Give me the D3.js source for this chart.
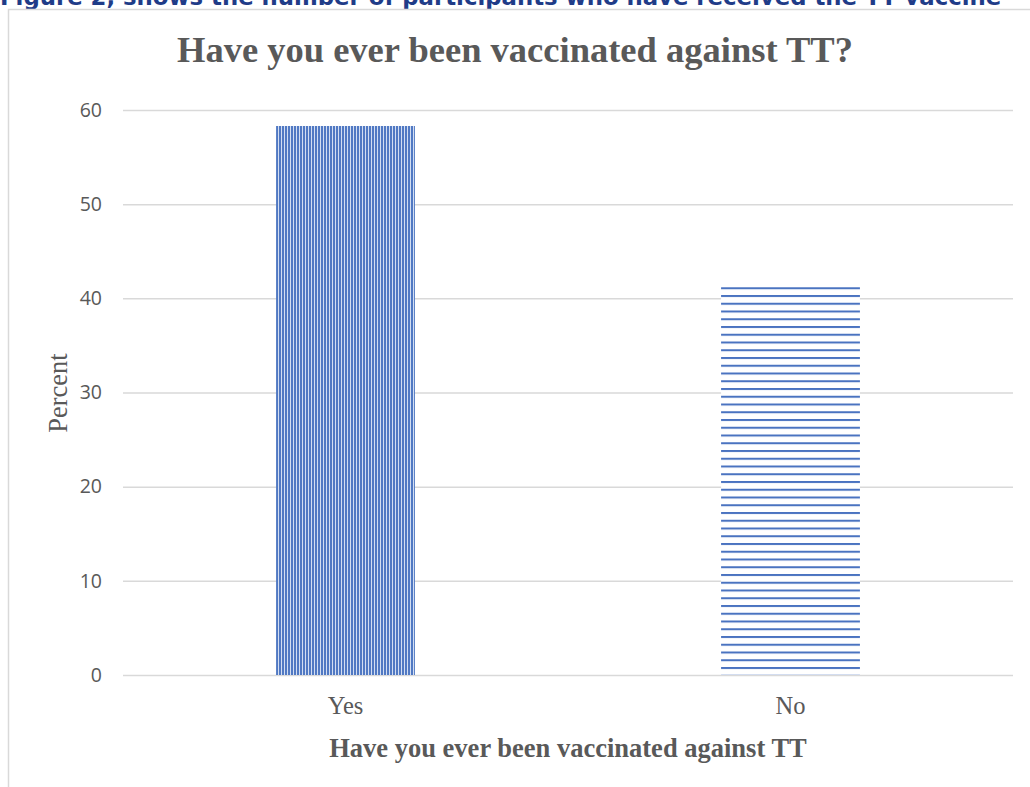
<!DOCTYPE html>
<html>
<head>
<meta charset="utf-8">
<script src="https://cdn.jsdelivr.net/npm/d3@7"></script>
<style>
  body { margin: 0; background: #fff; }
  svg { display: block; }
</style>
</head>
<body>
<div id="chart"></div>
<script>
const categories = ["Yes", "No"];
const percents = [58.3, 41.2];
const yTicks = [0, 10, 20, 30, 40, 50, 60];
const patterns = ["vstripe", "hstripe"];

const width = 1030, height = 787;
const margin = { top: 110, right: 17, bottom: 112, left: 123 };

const svg = d3.select("#chart").append("svg")
    .attr("width", width)
    .attr("height", height);

const defs = svg.append("defs");

// vertical stripes for the first bar
const pv = defs.append("pattern")
    .attr("id", "vstripe")
    .attr("patternUnits", "userSpaceOnUse")
    .attr("width", 3).attr("height", 10);
pv.append("rect").attr("width", 3).attr("height", 10).attr("fill", "#d3def2");
pv.append("rect").attr("width", 2).attr("height", 10).attr("fill", "#5179c3");

// horizontal lines for the second bar
const ph = defs.append("pattern")
    .attr("id", "hstripe")
    .attr("patternUnits", "userSpaceOnUse")
    .attr("width", 10).attr("height", 7.75)
    .attr("y", 0.5);
ph.append("rect").attr("width", 10).attr("height", 7.75).attr("fill", "#fff");
ph.append("rect").attr("width", 10).attr("height", 2).attr("fill", "#4a73c0");

// figure caption, cut off at top of the page like in the source
svg.append("text")
    .attr("x", 0)
    .attr("y", 5)
    .attr("font-family", "DejaVu Sans")
    .attr("font-weight", "bold")
    .attr("font-size", 22.8)
    .attr("fill", "#1f3c88")
    .text("Figure 2, shows the number of participants who have received the TT vaccine");

// chart frame
svg.append("path")
    .attr("d", `M8.5,${height} V9.5 H${width}`)
    .attr("fill", "none")
    .attr("stroke", "#d9d9d9")
    .attr("stroke-width", 1.5);

const x = d3.scaleBand()
    .domain(categories)
    .range([margin.left, width - margin.right])
    .paddingInner(0.688)
    .paddingOuter(0.344);

const y = d3.scaleLinear()
    .domain([0, 60])
    .range([height - margin.bottom, margin.top]);

// gridlines + y labels
const yAxis = svg.append("g")
    .attr("transform", `translate(${margin.left},0)`)
    .call(d3.axisLeft(y).tickValues(yTicks).tickSize(-(width - margin.left - margin.right)).tickPadding(21));
yAxis.select(".domain").remove();
yAxis.selectAll(".tick line").attr("stroke", "#d9d9d9").attr("stroke-width", 1.5);
yAxis.selectAll(".tick text")
    .attr("font-family", "Open Sans")
    .attr("font-size", 19.5)
    .attr("fill", "#595959");

svg.append("g")
    .selectAll("rect")
    .data(categories)
    .join("rect")
    .attr("x", d => x(d))
    .attr("width", x.bandwidth())
    .attr("y", (d, i) => y(percents[i]))
    .attr("height", (d, i) => y(0) - y(percents[i]))
    .attr("fill", (d, i) => `url(#${patterns[i]})`);

// x labels
const xAxis = svg.append("g")
    .attr("transform", `translate(0,${height - margin.bottom})`)
    .call(d3.axisBottom(x).tickSize(0).tickPadding(22));
xAxis.select(".domain").remove();
xAxis.selectAll(".tick text")
    .attr("font-family", "Liberation Serif")
    .attr("font-size", 24.5)
    .attr("fill", "#595959");

svg.append("text")
    .attr("x", 515)
    .attr("y", 62)
    .attr("text-anchor", "middle")
    .attr("font-family", "Liberation Serif")
    .attr("font-weight", "bold")
    .attr("font-size", 36.5)
    .attr("fill", "#595959")
    .text("Have you ever been vaccinated against TT?");

svg.append("text")
    .attr("x", 568)
    .attr("y", 757)
    .attr("text-anchor", "middle")
    .attr("font-family", "Liberation Serif")
    .attr("font-weight", "bold")
    .attr("font-size", 26.5)
    .attr("fill", "#595959")
    .text("Have you ever been vaccinated against TT");

svg.append("text")
    .attr("transform", "translate(67,393) rotate(-90)")
    .attr("text-anchor", "middle")
    .attr("font-family", "Liberation Serif")
    .attr("font-size", 26.5)
    .attr("fill", "#595959")
    .text("Percent");
</script>
</body>
</html>
